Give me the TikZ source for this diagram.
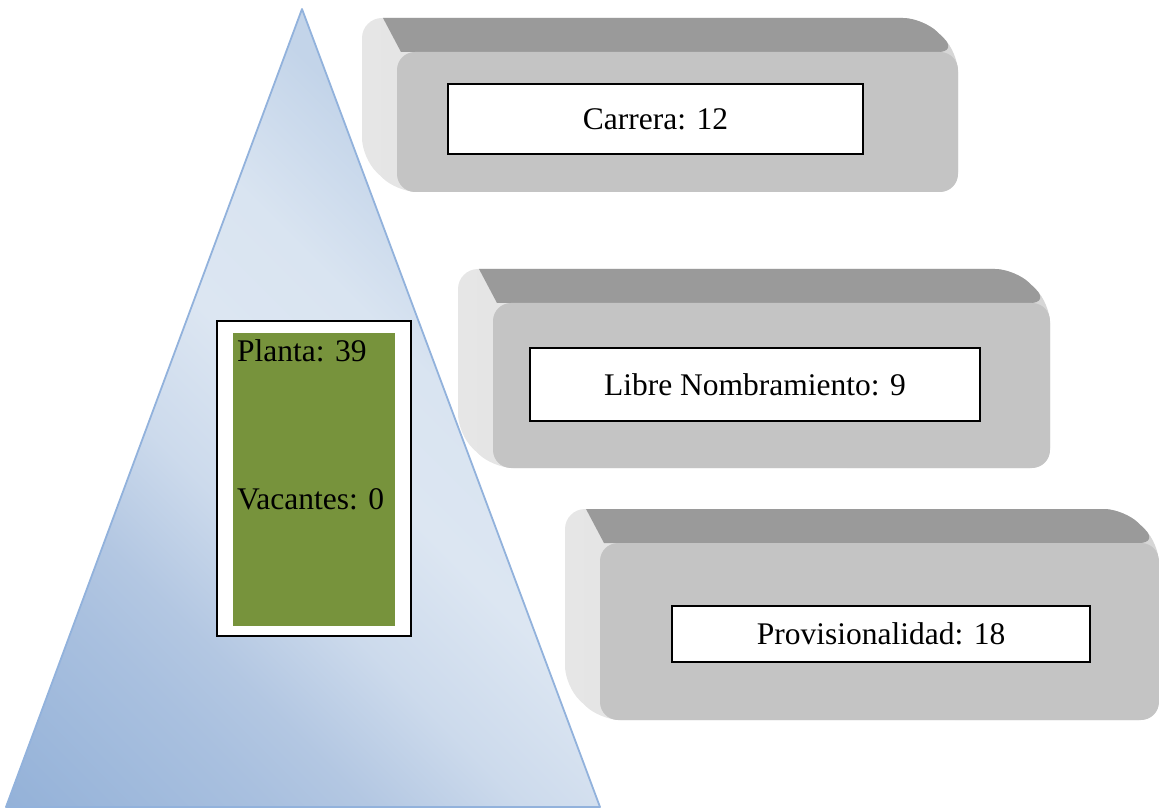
\documentclass[tikz,border=0pt]{standalone}
\usepackage{fontspec}
\setmainfont{Liberation Serif}
\definecolor{topgray}{HTML}{9A9A9A}
\definecolor{sidegray}{HTML}{E6E6E6}
\definecolor{sidegrayb}{HTML}{D6D6D6}
\definecolor{frontgray}{HTML}{C4C4C4}
\definecolor{trid}{HTML}{8CABD5}
\definecolor{tridark}{HTML}{93B1D8}
\definecolor{trisa}{HTML}{A9C0DF}
\definecolor{trisb}{HTML}{B3C7E2}
\definecolor{trisc}{HTML}{CCDAEC}
\definecolor{trilight}{HTML}{DCE6F2}
\definecolor{trilightb}{HTML}{D9E4F1}
\definecolor{tritop}{HTML}{C3D4E9}
\definecolor{triline}{HTML}{92B2DC}
\definecolor{olivegreen}{HTML}{77933C}
\pgfdeclarehorizontalshading{trishade}{100bp}{color(0bp)=(trid); color(14bp)=(tridark); color(28bp)=(trisa); color(33bp)=(trisb); color(41bp)=(trisc); color(50bp)=(trilight); color(58bp)=(trilightb); color(68bp)=(tritop); color(100bp)=(tritop)}
\newcommand{\bevelbox}[4]{%
  \shade[left color=sidegray,right color=sidegrayb,rounded corners=20pt]
    (#1-35,#2-34) -- (#3-35,#2-34) -- (#3,#2) -- (#3,#4) -- (#1,#4) -- (#1-35,#4-34) -- cycle;
  \fill[topgray]
    (#1-14,#2-34) [rounded corners=20pt] -- (#3-35,#2-34) -- (#3,#2) [sharp corners] -- (#1+4,#2) -- cycle;
  \fill[frontgray,rounded corners=18pt] (#1,#2) rectangle (#3,#4);
}
\tikzset{
  lbl/.style={font=\fontsize{31.5}{36}\selectfont, text=black},
  whitebox/.style={lbl, draw=black, line width=1.3pt, fill=white, inner sep=0pt},
}
\begin{document}
\begin{tikzpicture}[x=1pt,y=-1pt]
\useasboundingbox (0,0) rectangle (1159,810);
% pyramid
\shade[shading=trishade, shading angle=45]
  (302,9) -- (600,807) -- (6,807) -- cycle;
\draw[triline, line width=1.8pt, line join=round] (302,9) -- (600,807) -- (6,807) -- cycle;
% bevel boxes
\bevelbox{397}{52}{958}{192}
\bevelbox{493}{303}{1050}{468}
\bevelbox{600}{543}{1159}{720}
% labels
\node[whitebox, minimum width=415pt, minimum height=70pt] (carrera) at (655.5,119) {Carrera: 12};
\node[whitebox, minimum width=450pt, minimum height=73pt] (libre) at (755,384.5) {Libre Nombramiento: 9};
\node[whitebox, minimum width=418pt, minimum height=56pt] (prov) at (881,634) {Provisionalidad: 18};
% planta box
\node[draw=black, line width=1.5pt, fill=white, inner sep=0pt, minimum width=194pt, minimum height=315pt] (planta) at (314,478.5) {};
\node[fill=olivegreen, inner sep=0pt, minimum width=162pt, minimum height=293pt] (green) at (314,479) {};
\node[lbl, anchor=base west, inner sep=0pt] (plantatxt) at (237,361) {Planta: 39};
\node[lbl, anchor=base west, inner sep=0pt] (vacantes) at (237,509) {Vacantes: 0};
\end{tikzpicture}
\end{document}
